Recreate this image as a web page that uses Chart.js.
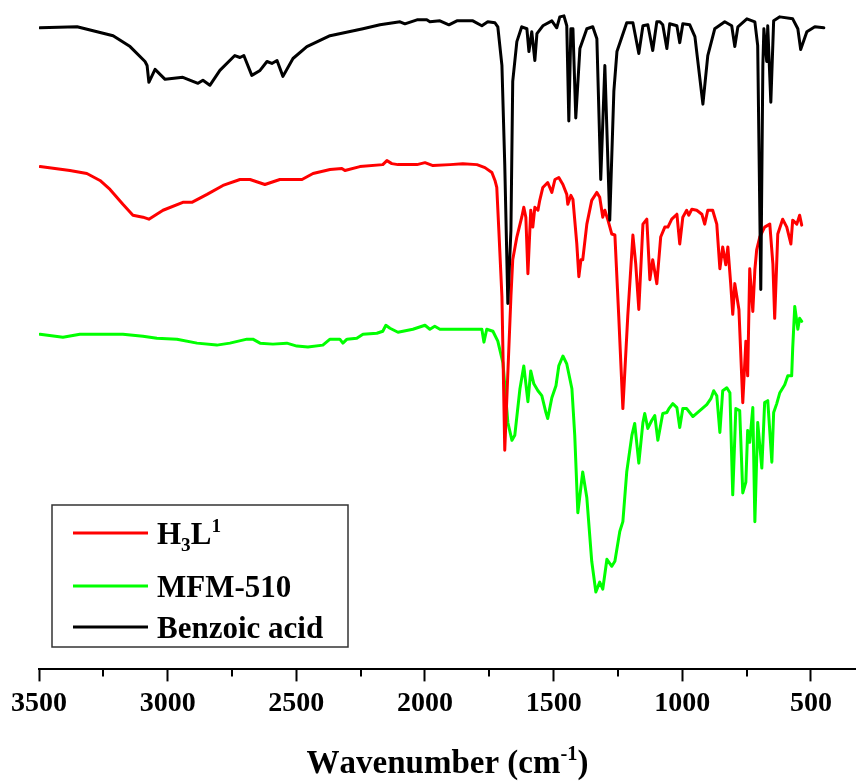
<!DOCTYPE html>
<html>
<head>
<meta charset="utf-8">
<script src="https://cdn.jsdelivr.net/npm/chart.js@4.4.1/dist/chart.umd.min.js"></script>
<style>
  html, body { margin: 0; padding: 0; background: #fff; }
  #wrap { width: 856px; height: 782px; }
</style>
</head>
<body>
<div id="wrap"><canvas id="myChart" width="856" height="782"></canvas></div>
<script>
// wavenumbers (cm-1) and offset transmittance
var names = ["H_3L^1", "MFM-510", "Benzoic acid"];
var colors = ["#ff0000", "#00ff00", "#000000"];
var xTicks = [3500, 3000, 2500, 2000, 1500, 1000, 500];
var minorTicks = [3250, 2750, 2250, 1750, 1250, 750];

var h3lWn = [3496, 3380, 3314, 3263, 3224, 3174, 3135, 3096, 3073, 3018, 2941, 2906, 2847, 2785, 2719, 2680, 2622, 2564, 2478, 2435,
    2369, 2323, 2311, 2253, 2164, 2148, 2129, 2105, 2031, 2000, 1969, 1903, 1853, 1798, 1767, 1740, 1728, 1721, 1713, 1701,
    1690, 1666, 1659, 1643, 1624, 1616, 1608, 1600, 1589, 1581, 1573, 1561, 1554, 1542, 1523, 1507, 1495, 1480, 1464, 1449,
    1445, 1433, 1425, 1410, 1402, 1394, 1387, 1371, 1352, 1332, 1321, 1309, 1301, 1289, 1274, 1262, 1247, 1231, 1212, 1192,
    1181, 1169, 1153, 1138, 1126, 1115, 1099, 1084, 1068, 1056, 1041, 1021, 1010, 998, 983, 975, 963, 944, 924, 913,
    901, 882, 866, 854, 843, 831, 823, 812, 804, 796, 780, 765, 753, 746, 738, 726, 718, 711, 699, 680,
    660, 648, 641, 629, 610, 594, 578, 571, 555, 544, 536];
var h3lT = [101.4, 100.6, 100.0, 98.6, 96.8, 93.8, 91.6, 91.2, 90.8, 92.6, 94.2, 94.2, 95.8, 97.6, 98.8, 98.8, 97.8, 98.8, 98.8, 100.0,
    100.8, 101.0, 100.6, 101.4, 101.8, 102.6, 102.0, 101.8, 101.8, 102.2, 101.6, 101.8, 102.0, 101.8, 101.2, 100.2, 98.6, 97.2, 88.6, 75.2,
    44.2, 75.2, 82.6, 87.2, 91.2, 93.2, 91.2, 79.8, 92.6, 89.2, 93.2, 92.6, 94.6, 97.2, 98.2, 96.2, 98.8, 99.2, 97.8, 95.8,
    93.8, 95.6, 94.8, 85.8, 79.2, 82.6, 82.6, 89.8, 94.6, 96.2, 95.2, 91.2, 92.6, 90.6, 87.8, 87.6, 71.2, 52.6, 71.2, 87.6,
    81.8, 72.6, 89.8, 90.8, 78.6, 82.6, 77.8, 87.2, 89.2, 89.2, 90.8, 91.8, 85.8, 91.2, 92.6, 91.6, 92.8, 92.6, 91.8, 89.8,
    92.6, 92.6, 89.8, 80.8, 85.2, 81.6, 85.2, 77.8, 71.6, 77.8, 72.6, 53.8, 66.2, 59.2, 80.8, 72.2, 80.6, 84.6, 87.2, 89.2,
    89.8, 81.8, 70.8, 87.8, 90.8, 89.2, 85.8, 90.6, 89.8, 91.6, 89.6];

var mfmWn = [3496, 3407, 3341, 3275, 3174, 3096, 3042, 2964, 2886, 2809, 2758, 2692, 2669, 2641, 2591, 2537, 2498, 2455, 2397, 2369,
    2331, 2319, 2303, 2265, 2241, 2187, 2164, 2152, 2136, 2105, 2047, 2000, 1981, 1962, 1942, 1853, 1779, 1771, 1760, 1736,
    1717, 1697, 1678, 1662, 1651, 1631, 1616, 1600, 1589, 1577, 1561, 1546, 1530, 1523, 1507, 1491, 1480, 1464, 1449, 1429,
    1418, 1406, 1387, 1371, 1352, 1336, 1321, 1309, 1293, 1274, 1262, 1243, 1231, 1216, 1196, 1185, 1169, 1153, 1146, 1134,
    1119, 1107, 1095, 1076, 1060, 1052, 1037, 1021, 1010, 998, 983, 959, 932, 905, 889, 878, 866, 854, 843, 827,
    815, 804, 792, 777, 765, 753, 746, 738, 726, 718, 707, 691, 680, 668, 652, 645, 633, 621, 602, 590,
    575, 571, 563, 551, 544, 536];
var mfmT = [67.6, 67.0, 67.6, 67.6, 67.6, 67.2, 66.8, 66.6, 65.8, 65.4, 65.8, 66.6, 66.6, 65.8, 65.6, 65.8, 65.2, 65.0, 65.4, 66.6,
    66.6, 65.8, 66.6, 66.8, 67.6, 67.8, 68.2, 69.4, 68.8, 68.0, 68.6, 69.4, 68.6, 69.2, 68.6, 68.6, 68.6, 66.0, 68.6, 68.2,
    66.2, 61.8, 49.8, 46.2, 47.2, 56.6, 61.2, 54.0, 60.2, 57.6, 56.2, 55.2, 51.8, 50.6, 54.8, 57.2, 61.2, 63.2, 61.6, 56.6,
    47.2, 31.6, 39.8, 34.6, 21.8, 15.6, 17.6, 16.2, 22.2, 20.8, 21.8, 27.8, 29.8, 39.8, 47.2, 49.6, 41.6, 49.8, 51.6, 48.6,
    50.2, 51.2, 46.2, 51.6, 51.8, 52.6, 53.6, 52.8, 48.8, 52.6, 52.6, 51.0, 52.2, 53.4, 54.6, 56.2, 55.2, 47.8, 56.2, 56.8,
    55.8, 35.2, 52.6, 52.2, 35.6, 37.8, 48.2, 45.8, 52.8, 29.8, 49.8, 40.6, 53.8, 54.2, 41.8, 51.8, 53.6, 55.8, 57.4, 59.2,
    59.2, 64.8, 73.2, 68.6, 70.8, 70.2];

var benzWn = [3496, 3352, 3212, 3146, 3088, 3080, 3073, 3049, 3010, 2941, 2902, 2882, 2863, 2836, 2797, 2739, 2719, 2704, 2673, 2641,
    2614, 2595, 2575, 2552, 2513, 2459, 2369, 2241, 2175, 2097, 2078, 2031, 1993, 1981, 1942, 1907, 1876, 1814, 1779, 1756,
    1728, 1717, 1701, 1690, 1678, 1666, 1659, 1643, 1624, 1604, 1596, 1585, 1573, 1565, 1542, 1507, 1488, 1476, 1460, 1449,
    1441, 1433, 1425, 1414, 1398, 1371, 1348, 1332, 1317, 1301, 1282, 1266, 1254, 1216, 1192, 1169, 1153, 1134, 1115, 1099,
    1087, 1076, 1060, 1049, 1021, 1010, 998, 971, 951, 920, 901, 874, 835, 808, 796, 784, 749, 718, 707, 695,
    687, 683, 672, 668, 656, 645, 621, 571, 551, 540, 516, 485, 450];
var benzT = [129.4, 129.6, 127.8, 125.6, 122.6, 121.8, 118.4, 121.0, 119.0, 119.4, 118.6, 118.2, 118.8, 117.8, 120.8, 123.8, 123.4, 123.8, 119.8, 120.8,
    122.6, 122.2, 122.8, 119.6, 123.2, 125.6, 127.8, 129.2, 130.0, 130.6, 130.2, 131.0, 131.0, 130.6, 130.8, 130.0, 130.8, 130.8, 129.8, 130.6,
    130.4, 129.6, 121.8, 101.8, 73.8, 88.6, 118.6, 126.6, 129.6, 129.2, 124.6, 128.6, 122.8, 128.2, 129.8, 130.8, 129.4, 131.6, 131.8, 129.8,
    110.6, 129.2, 129.2, 111.2, 125.2, 129.2, 129.6, 127.2, 98.8, 121.8, 90.6, 116.6, 124.6, 130.4, 130.4, 124.2, 129.8, 130.0, 124.8, 130.6,
    130.6, 130.0, 125.2, 130.2, 129.8, 126.4, 130.2, 130.0, 127.6, 114.0, 123.8, 129.2, 130.6, 129.8, 125.6, 129.6, 131.2, 130.6, 125.8, 76.6,
    121.8, 129.2, 122.6, 129.8, 114.4, 130.8, 131.6, 131.2, 129.2, 125.0, 128.6, 129.6, 129.4];

function pts(wn, t) {
    return wn.map((w, i) => ({ x: w, y: t[i] }));
}

var fontFam = "'Liberation Serif', 'Times New Roman', serif";

// draws text where _c is a subscript char and ^c a superscript char
function drawRich(ctx, str, x, y, size, measureOnly) {
    var cx = x;
    for (let i = 0; i < str.length; i++) {
        var ch = str[i];
        var shift = 0;
        var s = size;
        if ((ch == "_" || ch == "^") && i + 1 < str.length) {
            shift = ch == "_" ? size * 0.22 : -size * 0.38;
            s = size * 0.62;
            i++;
            ch = str[i];
        }
        ctx.font = "bold " + s + "px " + fontFam;
        if (!measureOnly) ctx.fillText(ch, cx, y + shift);
        cx += ctx.measureText(ch).width;
    }
    return cx - x;
}

var extras = {
    id: "extras",
    afterDraw(chart) {
        var ctx = chart.ctx;
        var xs = chart.scales.x;
        var area = chart.chartArea;
        ctx.save();
        // minor ticks
        ctx.strokeStyle = "#000";
        ctx.lineWidth = 2;
        minorTicks.forEach(v => {
            var px = Math.round(xs.getPixelForValue(v));
            ctx.beginPath();
            ctx.moveTo(px, area.bottom);
            ctx.lineTo(px, area.bottom + 7);
            ctx.stroke();
        });
        // axis title
        ctx.fillStyle = "#000";
        ctx.textBaseline = "alphabetic";
        var title = "Wavenumber (cm^-^1)";
        var w = drawRich(ctx, title, 0, 0, 33, true);
        drawRich(ctx, title, (area.left + area.right) / 2 - w / 2, 773, 33);
        // legend box
        ctx.strokeStyle = "#333";
        ctx.lineWidth = 1.5;
        ctx.strokeRect(52, 505, 296, 142);
        var rows = [533, 586, 627];
        names.forEach((n, i) => {
            ctx.strokeStyle = colors[i];
            ctx.lineWidth = 3;
            ctx.beginPath();
            ctx.moveTo(73, rows[i]);
            ctx.lineTo(148, rows[i]);
            ctx.stroke();
            ctx.fillStyle = "#000";
            drawRich(ctx, n, 157, rows[i] + 11, 31);
        });
        ctx.restore();
    }
};

var lineStyle = { borderWidth: 3, pointRadius: 0, borderJoinStyle: "round", borderCapStyle: "round" };

var ctx = document.getElementById("myChart").getContext("2d");
var chart = new Chart(ctx, {
    type: "line",
    data: {
        datasets: [
            Object.assign({ label: names[0], data: pts(h3lWn, h3lT), borderColor: colors[0], order: 1 }, lineStyle),
            Object.assign({ label: names[1], data: pts(mfmWn, mfmT), borderColor: colors[1], order: 2 }, lineStyle),
            Object.assign({ label: names[2], data: pts(benzWn, benzT), borderColor: colors[2], order: 0 }, lineStyle)
        ]
    },
    options: {
        responsive: false,
        animation: false,
        layout: { padding: { left: 39, right: 0, top: 0, bottom: 55 } },
        plugins: { legend: { display: false }, tooltip: { enabled: false } },
        scales: {
            x: {
                type: "linear",
                reverse: true,
                min: 325,
                max: 3500,
                afterBuildTicks: s => { s.ticks = xTicks.map(v => ({ value: v })); },
                ticks: {
                    color: "#000",
                    padding: 6,
                    maxRotation: 0,
                    autoSkip: false,
                    font: { family: fontFam, size: 28, weight: "bold" },
                    callback: v => String(v)
                },
                grid: { drawOnChartArea: false, tickLength: 12, tickWidth: 2, tickColor: "#000" },
                border: { display: true, color: "#000", width: 2 }
            },
            y: {
                display: false,
                min: 0,
                max: 135
            }
        }
    },
    plugins: [extras]
});
</script>
</body>
</html>
